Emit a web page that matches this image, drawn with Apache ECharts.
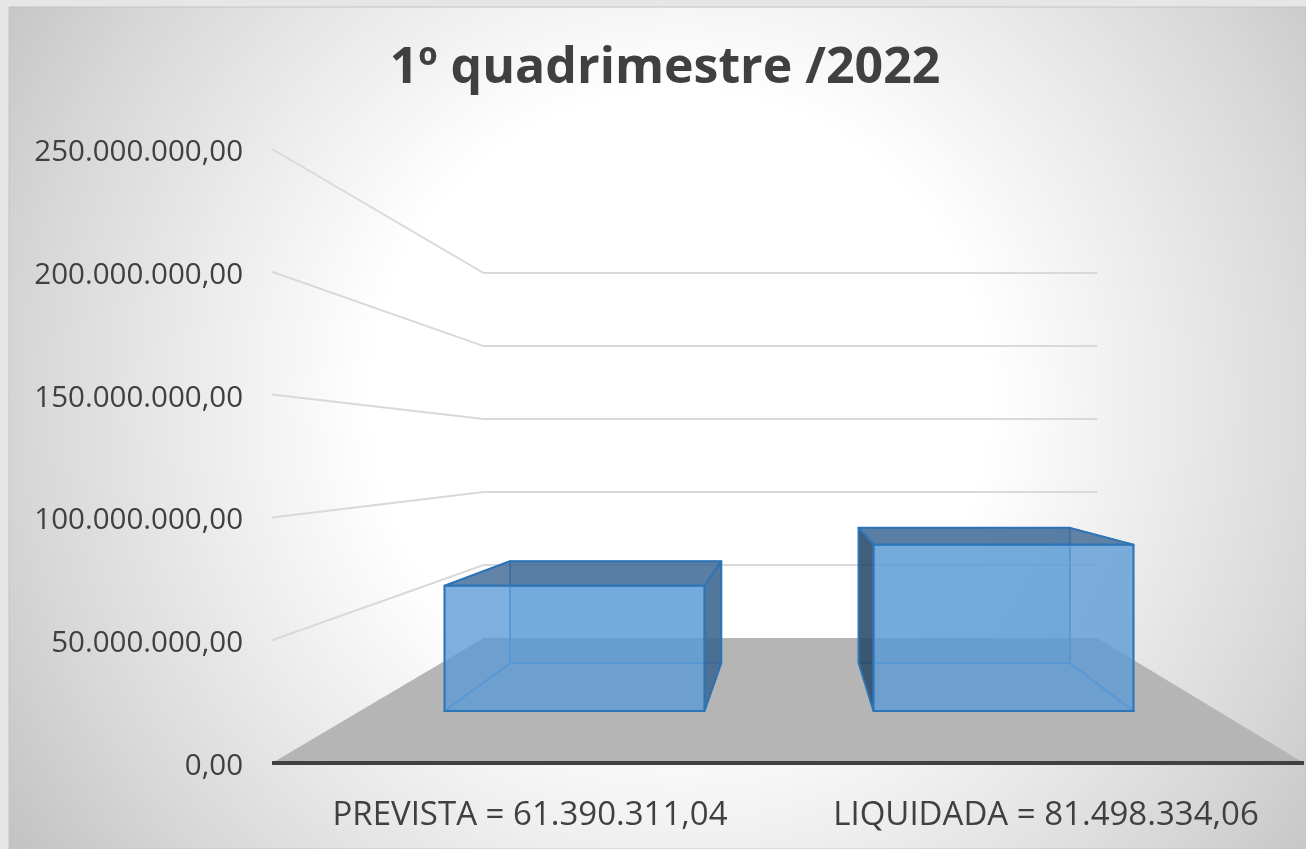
<!DOCTYPE html>
<html>
<head>
<meta charset="utf-8">
<style>
  html, body { margin: 0; padding: 0; background: #e6e6e6; }
  #main { width: 1306px; height: 849px; }
</style>
<script src="https://cdn.jsdelivr.net/npm/echarts@6/dist/echarts.min.js"></script>
</head>
<body>
<div id="main"></div>
<script>
const categories = ['PREVISTA = 61.390.311,04', 'LIQUIDADA = 81.498.334,06'];
const values = [61390311.04, 81498334.06];
const gridValues = [50000000, 100000000, 150000000, 200000000, 250000000];
const chartTitle = '1º quadrimestre /2022';

const FONT = '"Open Sans", sans-serif';
const TEXT = '#404040';

// the 3d look: everything is drawn on the front plane, then pulled to the vanishing point
const VANISH_X = 794;
const VANISH_Y = 455;
const DEPTH_WALL = 0.5945;  // back wall
const DEPTH_BAR_FRONT = 0.8313;
const DEPTH_BAR_BACK = 0.6755;
const BAR_HALF = 0.303;     // half bar width, share of one band

function project(p, s) {
  return [VANISH_X + (p[0] - VANISH_X) * s, VANISH_Y + (p[1] - VANISH_Y) * s];
}

function renderFloor(params, api) {
  const band = api.size([1, 0])[0];
  const c0 = api.coord([0, 0]);
  const c1 = api.coord([categories.length - 1, 0]);
  const a = [c0[0] - band / 2, c0[1]];
  const b = [c1[0] + band / 2, c1[1]];
  return {
    type: 'polygon',
    shape: { points: [a, b, project(b, DEPTH_WALL), project(a, DEPTH_WALL)] },
    style: { fill: '#b5b5b5' }
  };
}

function renderWallLine(params, api) {
  const band = api.size([1, 0])[0];
  const v = api.value(0);
  const c0 = api.coord([0, v]);
  const c1 = api.coord([categories.length - 1, v]);
  const a = [c0[0] - band / 2, c0[1]];
  const b = [c1[0] + band / 2, c1[1]];
  return {
    type: 'polyline',
    shape: { points: [a, project(a, DEPTH_WALL), project(b, DEPTH_WALL)] },
    style: { fill: null, stroke: '#d9d9d9', lineWidth: 2 }
  };
}

function renderBar(params, api) {
  const i = api.value(0);
  const v = api.value(1);
  const band = api.size([1, 0])[0];
  const top = api.coord([i, v]);
  const bottom = api.coord([i, 0]);
  const l = top[0] - band * BAR_HALF;
  const r = top[0] + band * BAR_HALF;

  const fBL = project([l, bottom[1]], DEPTH_BAR_FRONT);
  const fBR = project([r, bottom[1]], DEPTH_BAR_FRONT);
  const fTL = project([l, top[1]], DEPTH_BAR_FRONT);
  const fTR = project([r, top[1]], DEPTH_BAR_FRONT);
  const bBL = project([l, bottom[1]], DEPTH_BAR_BACK);
  const bBR = project([r, bottom[1]], DEPTH_BAR_BACK);
  const bTL = project([l, top[1]], DEPTH_BAR_BACK);
  const bTR = project([r, top[1]], DEPTH_BAR_BACK);

  const inner = { stroke: '#4a8fd0', lineWidth: 1.5 };
  const edge = { stroke: '#2e75b6', lineWidth: 2, lineJoin: 'round' };
  const children = [];
  const poly = (points, style) => children.push({ type: 'polygon', shape: { points: points }, style: style });

  // back face and floor of the bar
  poly([bTL, bTR, bBR, bBL], Object.assign({ fill: 'rgba(90,153,214,0.3)' }, inner));
  poly([fBL, fBR, bBR, bBL], Object.assign({ fill: 'rgba(90,153,214,0.1)' }, inner));

  // side faces: only the one pointing outwards shows up dark
  poly([fTL, bTL, bBL, fBL], bTL[0] < fTL[0]
    ? Object.assign({ fill: 'rgba(40,70,100,0.85)' }, edge)
    : Object.assign({ fill: 'rgba(90,153,214,0.05)' }, inner));
  poly([fTR, bTR, bBR, fBR], bTR[0] > fTR[0]
    ? Object.assign({ fill: 'rgba(60,100,140,0.85)' }, edge)
    : Object.assign({ fill: 'rgba(90,153,214,0.05)' }, inner));

  // lid and front
  poly([fTL, fTR, bTR, bTL], Object.assign({ fill: 'rgba(60,103,148,0.8)' }, edge));
  poly([fTL, fTR, fBR, fBL], Object.assign({ fill: 'rgba(90,153,214,0.77)' }, edge));

  return { type: 'group', children: children };
}

const chart = echarts.init(document.getElementById('main'));

chart.setOption({
  backgroundColor: '#e6e6e6',
  animation: false,
  textStyle: { fontFamily: FONT },
  title: {
    text: chartTitle,
    left: 660,
    top: 39,
    textAlign: 'center',
    textStyle: { fontFamily: FONT, fontSize: 50, fontWeight: 'bold', color: TEXT }
  },
  graphic: [{
    type: 'rect',
    z: -10,
    shape: { x: 9, y: 7, width: 1297, height: 842 },
    style: {
      stroke: '#c4c4c4',
      lineWidth: 1,
      fill: {
        type: 'radial',
        x: 680,
        y: 400,
        r: 810,
        global: true,
        colorStops: [
          { offset: 0, color: '#ffffff' },
          { offset: 0.38, color: '#ffffff' },
          { offset: 0.6, color: '#ebebeb' },
          { offset: 0.8, color: '#d8d8d8' },
          { offset: 1, color: '#c2c2c2' }
        ]
      }
    }
  }],
  grid: { left: 272, top: 149, width: 1032, height: 614 },
  xAxis: {
    type: 'category',
    data: categories,
    z: 6,
    axisTick: { show: false },
    axisLine: { lineStyle: { color: '#404040', width: 4, cap: 'butt' } },
    axisLabel: { margin: 36, fontFamily: FONT, fontSize: 33, color: TEXT, interval: 0 }
  },
  yAxis: {
    type: 'value',
    min: 0,
    max: 250000000,
    interval: 50000000,
    axisLine: { show: false },
    axisTick: { show: false },
    splitLine: { show: false },
    axisLabel: {
      margin: 29,
      verticalAlign: 'top',
      lineHeight: 7,
      fontFamily: FONT,
      fontSize: 29.5,
      color: TEXT,
      formatter: (v) => v.toLocaleString('pt-BR', { minimumFractionDigits: 2, maximumFractionDigits: 2 })
    }
  },
  series: [
    { type: 'custom', z: 2, clip: false, silent: true, renderItem: renderFloor, data: [[0, 0]], encode: { x: 0, y: 1 } },
    { type: 'custom', z: 3, clip: false, silent: true, renderItem: renderWallLine, data: gridValues.map((v) => [v]), encode: { y: 0 } },
    { type: 'custom', z: 4, clip: false, silent: true, renderItem: renderBar, data: values.map((v, i) => [i, v]), encode: { x: 0, y: 1 } }
  ]
});
</script>
</body>
</html>
